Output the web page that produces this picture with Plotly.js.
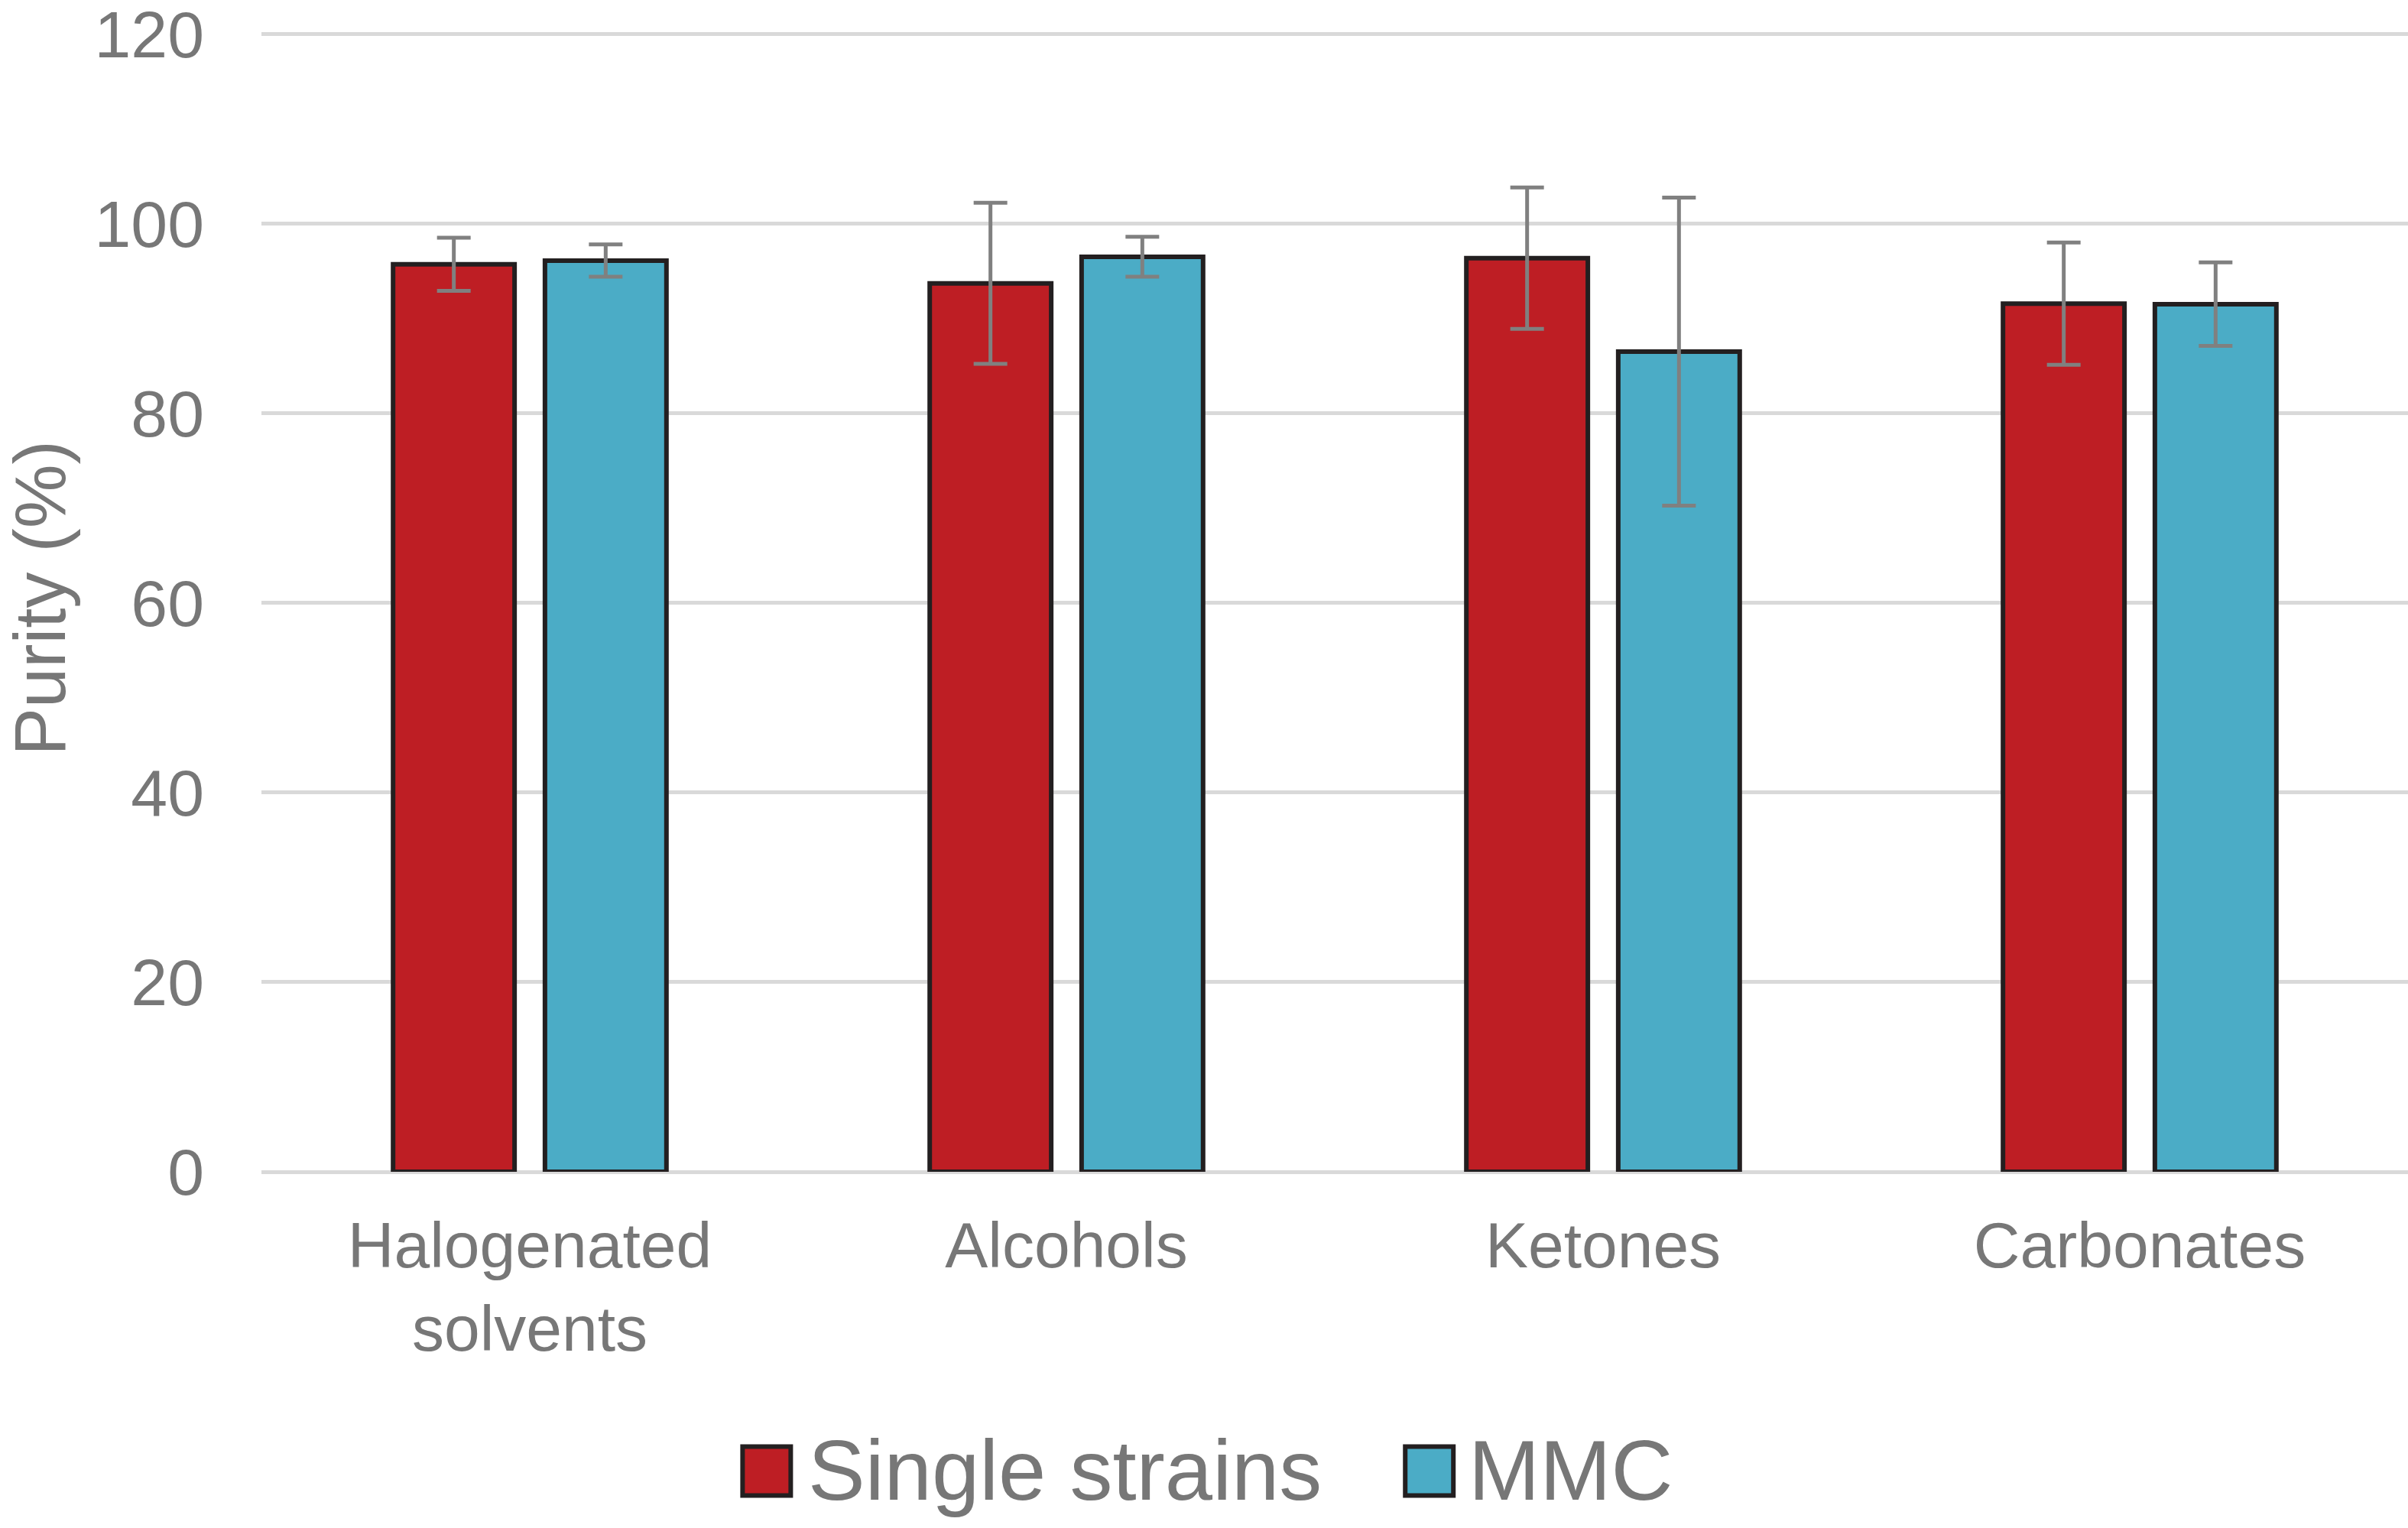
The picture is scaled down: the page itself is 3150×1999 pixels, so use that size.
<!DOCTYPE html>
<html>
<head>
<meta charset="utf-8">
<script src="https://cdn.plot.ly/plotly-3.0.1.min.js"></script>
<style>
  html, body { margin: 0; padding: 0; background: #fff; }
  #chart { width: 3150px; height: 1999px; }
</style>
</head>
<body>
<div id="chart"></div>
<script>
// categories and values
var categories = ['Halogenated<br>solvents', 'Alcohols', 'Ketones', 'Carbonates'];
var singleStrains = [95.7, 93.7, 96.35, 91.55];
var singleStrainsErr = [2.8, 8.5, 7.45, 6.45];
var mmc = [96.1, 96.5, 86.5, 91.5];
var mmcErr = [1.7, 2.1, 16.25, 4.4];
var yTicks = [0, 20, 40, 60, 80, 100, 120];

var RED = '#BE1E24';
var BLUE = '#4BACC6';
var OUTLINE = '#231F20';
var GREY = '#777777';
var FONT = 'Liberation Sans, Arial, sans-serif';

function barTrace(name, values, errs, color) {
  return {
    type: 'bar',
    name: name,
    x: categories,
    y: values,
    marker: { color: color, line: { color: OUTLINE, width: 6 } },
    error_y: {
      type: 'data',
      array: errs,
      visible: true,
      color: '#808080',
      thickness: 5,
      width: 22
    },
    showlegend: false,
    hoverinfo: 'x+y'
  };
}

var data = [
  barTrace('Single strains', singleStrains, singleStrainsErr, RED),
  barTrace('MMC', mmc, mmcErr, BLUE)
];

// plot area in pixels (y range runs to 121 so the 120 grid line stays inside)
var L = 341.5, T = 32.2, W = 3150, H = 1999, B = 1532.6;
var plotW = W - L, plotH = B - T;
function px(x) { return (x - L) / plotW; }
function py(y) { return (B - y) / plotH; }

var legendItems = [
  { name: 'Single strains', color: RED, box: [971, 1034], text: 1055 },
  { name: 'MMC', color: BLUE, box: [1838, 1901], text: 1919 }
];

var shapes = legendItems.map(function(it) {
  return {
    type: 'rect', xref: 'paper', yref: 'paper',
    x0: px(it.box[0]), x1: px(it.box[1]),
    y0: py(1892), y1: py(1956),
    fillcolor: it.color,
    line: { color: OUTLINE, width: 6 }
  };
});

var annotations = legendItems.map(function(it) {
  return {
    xref: 'paper', yref: 'paper',
    x: px(it.text), y: py(1923),
    xanchor: 'left', yanchor: 'middle',
    text: it.name, showarrow: false,
    font: { family: FONT, size: 112, color: GREY }
  };
});

var layout = {
  width: W,
  height: H,
  margin: { l: L, r: 0, t: T, b: H - B, pad: 0 },
  paper_bgcolor: '#ffffff',
  plot_bgcolor: '#ffffff',
  barmode: 'group',
  bargap: 0.434,
  bargroupgap: 0.2,
  font: { family: FONT, color: GREY },
  xaxis: {
    type: 'category',
    showgrid: false,
    showline: false,
    zeroline: false,
    ticks: '',
    ticklabelstandoff: 40,
    tickfont: { family: FONT, size: 84, color: GREY },
    automargin: false
  },
  yaxis: {
    range: [0, 121],
    tickvals: yTicks,
    ticktext: yTicks.map(String),
    ticklabeloverflow: 'allow',
    showgrid: true,
    gridcolor: '#D9D9D9',
    gridwidth: 5,
    zeroline: true,
    zerolinecolor: '#D9D9D9',
    zerolinewidth: 5,
    showline: false,
    ticks: '',
    ticklabelstandoff: 74,
    tickfont: { family: FONT, size: 86, color: GREY },
    title: {
      text: 'Purity (%)',
      standoff: 40,
      font: { family: FONT, size: 94, color: GREY }
    },
    automargin: false
  },
  shapes: shapes,
  annotations: annotations
};

Plotly.newPlot('chart', data, layout, { displayModeBar: false, staticPlot: true });
</script>
</body>
</html>
